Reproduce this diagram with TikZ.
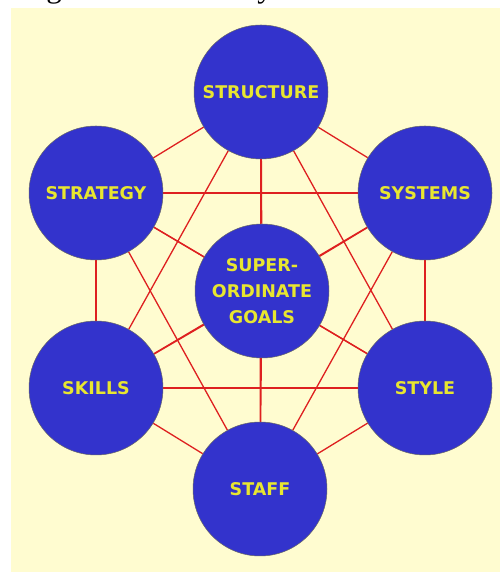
\documentclass[tikz,border=0pt]{standalone}
\usepackage{fontspec}
\setmainfont{Liberation Serif}
\newfontfamily\labelfont{DejaVu Sans}
\definecolor{paper}{RGB}{255,252,208}
\definecolor{sblue}{RGB}{51,51,204}
\definecolor{syellow}{RGB}{232,230,48}
\definecolor{sred}{RGB}{222,32,32}
\pgfdeclarelayer{back}
\pgfdeclarelayer{lines}
\pgfsetlayers{back,lines,main}
\begin{document}
\begin{tikzpicture}[x=1pt, y=1pt,
    element/.style={circle, fill=sblue, draw=black!60, line width=0.5pt,
      minimum size=134pt, inner sep=0pt, text=syellow, align=center,
      font=\labelfont\bfseries\fontsize{17.5}{26}\selectfont},
    link/.style={draw=sred, line width=1.3pt}]
    \useasboundingbox (0, 0) rectangle (500, 572);
    % caption, cut off by the page edge
    \node[anchor=base, inner sep=0pt, font=\fontsize{31}{31}\selectfont] (caption) at (250, 574) {Figure 1: McKinsey's 7s Framework};
    \begin{pgfonlayer}{back}
        \fill[paper] (11, 0) rectangle (500, 564);
    \end{pgfonlayer}
    \node[element] (structure) at (261, 480) {STRUCTURE};
    \node[element] (strategy) at (96, 379) {STRATEGY};
    \node[element] (systems) at (425, 379) {SYSTEMS};
    \node[element] (goals) at (262, 281) {SUPER-\\ORDINATE\\GOALS};
    \node[element] (skills) at (96, 184) {SKILLS};
    \node[element] (style) at (425, 184) {STYLE};
    \node[element] (staff) at (260, 83) {STAFF};
    % every element is tied to every other one
    \begin{pgfonlayer}{lines}
        \foreach \a/\b in {structure/systems, structure/style, structure/staff,
            structure/skills, structure/strategy, structure/goals,
            systems/style, systems/staff, systems/skills, systems/strategy, systems/goals,
            style/staff, style/skills, style/strategy, style/goals,
            staff/skills, staff/strategy, staff/goals,
            skills/strategy, skills/goals, strategy/goals}
            \draw[link] (\a) -- (\b);
    \end{pgfonlayer}
\end{tikzpicture}
\end{document}
